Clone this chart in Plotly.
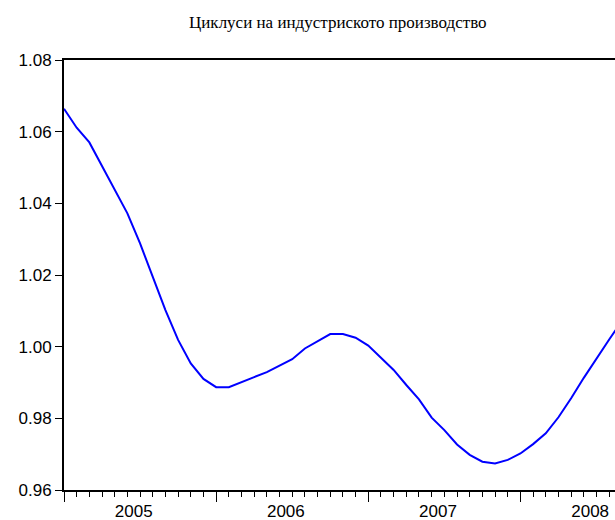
import plotly.graph_objects as go

title_text = "Циклуси на индустриското производство"
start_year = 2005
values = [1.0664, 1.0611, 1.0570, 1.0503, 1.0437, 1.0372, 1.0288, 1.0195, 1.0102, 1.0019,
          0.9953, 0.9910, 0.9887, 0.9887, 0.9900, 0.9915, 0.9929, 0.9946, 0.9965, 0.9995,
          1.0016, 1.0035, 1.0035, 1.0025, 1.0003, 0.9970, 0.9935, 0.9893, 0.9853, 0.9802,
          0.9767, 0.9727, 0.9698, 0.9679, 0.9674, 0.9684, 0.9702, 0.9728, 0.9758, 0.9803,
          0.9856, 0.9913, 0.9968, 1.0020, 1.0072]
year_labels = ["2005", "2006", "2007", "2008"]
y_ticks = [0.96, 0.98, 1.00, 1.02, 1.04, 1.06, 1.08]

months = [f"{start_year + i // 12}M{i % 12 + 1:02d}" for i in range(len(values))]
x = list(range(len(values)))

year_starts = [i for i, m in enumerate(months) if m.endswith("M01")]
label_pos = [s + 5.5 for s in year_starts]

fig = go.Figure()
fig.add_trace(go.Scatter(x=x, y=values, mode="lines", text=months,
                         line=dict(color="#0000FF", width=2), showlegend=False))
fig.add_trace(go.Scatter(x=[None], y=[None], xaxis="x2", showlegend=False))

xr = [0, 43.46]
fig.update_layout(
    width=615, height=520,
    margin=dict(l=64, r=0, t=60, b=30, autoexpand=False),
    paper_bgcolor="white", plot_bgcolor="white",
    font=dict(family="Liberation Sans, Arial", size=17, color="black"),
    xaxis=dict(range=xr, showgrid=False, zeroline=False, showline=True, linecolor="black",
               linewidth=2, mirror=True, tickvals=year_starts, ticks="outside", ticklen=10,
               tickcolor="black", tickwidth=1, showticklabels=False, automargin=False,
               minor=dict(dtick=1, tick0=0, ticks="outside", ticklen=5, tickcolor="black",
                          tickwidth=1, showgrid=False)),
    xaxis2=dict(range=xr, overlaying="x", side="bottom", showgrid=False, zeroline=False,
                showline=False, tickvals=label_pos, ticktext=year_labels, ticks="",
                ticklabelstandoff=9, tickfont=dict(size=17), automargin=False),
    yaxis=dict(range=[0.96, 1.08], showgrid=False, zeroline=False, showline=True,
               linecolor="black", linewidth=2, tickvals=y_ticks,
               ticktext=[f"{v:.2f}" for v in y_ticks], ticks="outside", ticklen=7,
               tickcolor="black", tickwidth=1, tickfont=dict(size=17), automargin=False),
    annotations=[dict(text=title_text, x=(338 - 64) / (615 - 64), xref="paper",
                      y=1 + (60 - 23) / 430, yref="paper", yanchor="middle",
                      showarrow=False,
                      font=dict(family="Liberation Serif, Times New Roman", size=17))],
)

fig.write_html("out.html", config={"displayModeBar": False},
               post_script="document.body.style.margin='0';document.body.style.overflow='hidden';")
